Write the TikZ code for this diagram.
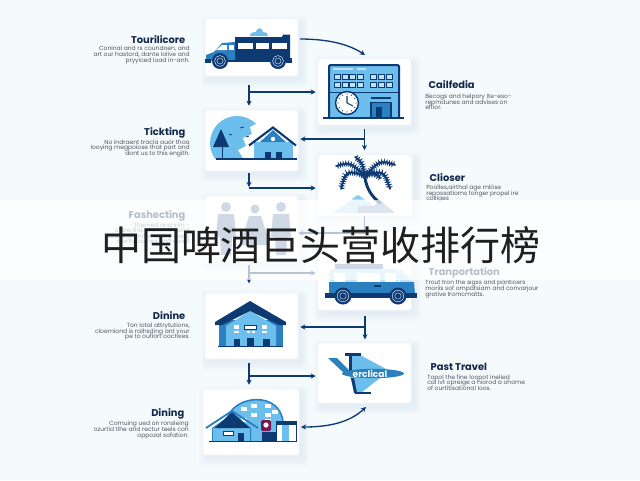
\documentclass[tikz,border=0pt]{standalone}
\usepackage{fontspec}
\setmainfont{Poppins}
\newfontfamily\cjkfont{Noto Sans CJK SC}
\usetikzlibrary{arrows.meta,calc,decorations.pathmorphing}
\definecolor{navy}{HTML}{0E3A73}
\definecolor{ink}{HTML}{10264A}
\definecolor{midblue}{HTML}{2B80C0}
\definecolor{skyblue}{HTML}{6CBFEC}
\definecolor{paleblue}{HTML}{BFE3F6}
\definecolor{bodygrey}{HTML}{50565E}
\definecolor{pagetint}{HTML}{F5FAFC}
\definecolor{slate}{HTML}{5F80AC}
\newcommand{\copyfont}{\fontsize{4.5}{4.15}\selectfont\lineskiplimit=-6pt\relax}
\tikzset{
  card/.style={fill=white,draw=black!4,line width=.4pt,rounded corners=1.8pt,inner sep=0pt},
  link/.style={draw=navy,line width=1pt,-{Stealth[length=3.8pt,width=3.8pt]}},
  stem/.style={draw=navy,line width=1pt},
  headL/.style={anchor=east,text=ink,font=\fontsize{7.4}{8}\selectfont\bfseries},
  headR/.style={anchor=west,text=ink,font=\fontsize{7.4}{8}\selectfont\bfseries},
  copyL/.style={anchor=east,align=right,text=bodygrey,inner sep=0pt,font=\copyfont},
  copyR/.style={anchor=west,align=left,text=bodygrey,inner sep=0pt,font=\copyfont},
  feather/.style={draw=navy,line width=.7pt,decorate,decoration={zigzag,amplitude=1.5pt,segment length=1.8pt}},
  spine/.style={draw=navy,line width=1.2pt,line cap=round},
}
% A white panel with a soft drop shadow, given by its corners in pixels
\newcommand{\panel}[5]{%
  \foreach \s in {7,5,3,1}{%
    \fill[black!45!cyan!60!blue,opacity=.018,rounded corners=3pt]
      (#2+3-\s,#3+4-\s) rectangle (#4+3+\s,#5+4+\s);}
  \pgfmathsetmacro{\pw}{(#4-#2)*.75}\pgfmathsetmacro{\ph}{(#5-#3)*.75}
  \node[card,minimum width=\pw pt,minimum height=\ph pt] (#1) at ({(#2+#4)/2},{(#3+#5)/2}) {};}
% A wheel with rim rings
\newcommand{\wheel}[3]{%
  \fill[navy] (#1,#2) circle (#3);
  \draw[white,line width=.3pt] (#1,#2) circle (#3*.68);
  \draw[white!70!skyblue,line width=.3pt] (#1,#2) circle (#3*.38);}
% A feathered palm frond arching from the crown to its tip
\newcommand{\frond}[4]{%
  \draw[feather] (365,176) .. controls (#1,#2) .. (#3,#4);
  \draw[spine] (365,176) .. controls (#1,#2) .. (#3,#4);}
\begin{document}
\begin{tikzpicture}[x=.75pt,y=-.75pt]
\useasboundingbox (0,0) rectangle (640,480);
\fill[pagetint] (0,0) rectangle (640,480);

\panel{cardA}{205}{19}{298}{76}
\panel{cardB}{318}{59}{411}{125}
\panel{cardC}{205}{110}{298}{171}
\panel{cardD}{318}{155}{412}{216}
\panel{cardE}{205}{196}{298}{262}
\panel{cardF}{318}{232}{411}{310}
\panel{cardG}{205}{293}{298}{359}
\panel{cardH}{318}{343}{411}{403}
\panel{cardI}{203}{389}{299}{455}

% Junctions of the branching connectors
\coordinate (jA) at (249,92);
\coordinate (jB) at (364.5,139);
\coordinate (jC) at (249,188);
\coordinate (jD) at (364.5,233);
\coordinate (jE) at (249,273);
\coordinate (jF) at (365,327);
\coordinate (jG) at (249,376);
\coordinate (jH) at (366,407);
\coordinate (jI) at (301,427);
\coordinate (jJ) at (300,39);
\coordinate (jK) at (365,55);

\draw[link] (jJ) .. controls (330,39) and (350,45) .. (jK);
\draw[link,shorten <=6.5pt,shorten >=3pt] (jA |- cardA.south) -- (jA |- cardC.north);
\draw[link,shorten >=1.5pt] (jA) -- (jA -| cardB.west);
\draw[link,shorten <=2.5pt,shorten >=3.5pt] (jB |- cardB.south) -- (jB |- cardD.north);
\draw[link,shorten >=1.5pt] (jB) -- (jB -| cardC.east);
\draw[link,shorten <=1.5pt,shorten >=5pt] (jC |- cardC.south) -- ($(jC |- cardE.north)+(0,-2)$);
\draw[link,shorten >=1.5pt] (jC) -- (jC -| cardD.west);
\draw[link] (jD) -- (jD -| cardE.east);
\draw[stem] (jD |- cardD.south) -- (jD);
\draw[link,shorten <=2pt,shorten >=7pt] (jE |- cardE.south) -- (jE |- cardG.north);
\draw[link,shorten >=1.5pt] (jE) -- (jE -| cardF.west);
\draw[link,shorten <=4.5pt,shorten >=2.5pt] (jF |- cardF.south) -- (jF |- cardH.north);
\draw[link,shorten >=1.5pt] (jF) -- (jF -| cardG.east);
\draw[link,shorten <=2.5pt,shorten >=3pt] (jG |- cardG.south) -- (jG |- cardI.north);
\draw[link,shorten >=1.5pt] (jG) -- (jG -| cardH.west);
\draw[link,{Stealth[length=3.8pt,width=3.8pt]}-{Stealth[length=3.8pt,width=3.8pt]}] (jI) .. controls (330,427) and (350,422) .. (jH);

% Bus
\fill[skyblue] (250,36) .. controls (250,32) and (254,32) .. (256,32) .. controls (257,27) and (262,27) .. (263,32) .. controls (266,32) and (268,33) .. (268,36) -- cycle;
\fill[navy] (235,37) -- (282,37) -- (283,34.5) -- (290,34.5) -- (290,61) -- (235,61) -- cycle;
\fill[midblue] (206,61) -- (206,55) -- (214,52) -- (222,43) -- (235,42) -- (235,61) -- cycle;
\fill[white] (216,50) -- (222,45) -- (227,45) -- (227,50) -- cycle;
\fill[white] (229,45) -- (234,45) -- (234,50) -- (229,50) -- cycle;
\fill[white] (238,43) rectangle (253,49);
\fill[white] (256,43) rectangle (269,49);
\fill[white] (272,43) rectangle (287,49);
\fill[navy] (205,59) rectangle (211,62.5);
\fill[navy] (286,58) rectangle (292,62.5);
\fill[navy] (228,60) rectangle (270,62);
\wheel{220}{61}{8}
\wheel{278}{61}{8}

% Office with clock
\fill[skyblue] (329,65) rectangle (399,118);
\draw[navy,line width=1.5pt,rounded corners=1pt] (329,118) -- (329,65) -- (399,65) -- (399,118);
\fill[paleblue] (333,68) rectangle (353,70);
\fill[paleblue] (357,68) rectangle (366,70);
\draw[navy,line width=.7pt] (330,92.5) -- (398,92.5);
\foreach \y in {74.5,82.5}{
  \foreach \x in {334,342,349,357,370,378,386}{
    \draw[navy,fill=paleblue,line width=.6pt] (\x,\y) rectangle +(6,5);}}
\fill[navy] (323,117) rectangle (404,119);
\draw[navy,fill=white,line width=1.1pt] (347,103) circle (11.5);
\draw[navy,line width=.8pt] (347,103) -- (347,96) (347,103) -- (353,106);
\foreach \a in {0,30,...,330}{\fill[navy] (347,103) ++(\a:9) circle (.6);}
\fill[navy] (371,97) rectangle (391,99);
\draw[navy,fill=midblue,line width=.8pt] (371,102.5) rectangle (391,117.5);
\fill[navy] (376,107) rectangle (382,118);

% Tree and cottage
\begin{scope}
\clip (205,110) rectangle (298,158);
\fill[skyblue] (237,143) circle (27);
\end{scope}
\fill[white] (263,118) -- (256,124) -- (250,127) -- (252,134) -- (243,138) -- (246,146) -- (238,150) -- (243,158) -- (290,158) -- (292,114) -- cycle;
\fill[navy] (221,129) -- (229,147) -- (213,147) -- cycle;
\draw[navy,line width=.7pt] (222,146) -- (222,158);
\draw[navy,line width=.6pt] (240,128) -- (244,127) (229,134) -- (232,135) (246,137) -- (249,136);
\fill[skyblue] (254,142) rectangle (293,158);
\fill[midblue] (273,130) -- (286,142) -- (260,142) -- cycle;
\draw[navy,line width=1.6pt,line join=miter] (249,145.5) -- (273,127.5) -- (296,145.5);
\fill[white] (273,139) circle (2.2);
\fill[navy] (265,152) rectangle (271,158);
\fill[navy] (276,152) rectangle (282,158);
\fill[navy] (216,158) rectangle (297,159.5);

% Palm and shore
\fill[paleblue] (358,195) -- (385,213) -- (333,213) -- cycle;
\fill[skyblue!80] (358,195) -- (364,199) -- (352,199) -- cycle;
\fill[slate!70] (380,200) -- (395,213) -- (358,213) -- (358,206) -- (374,206) -- cycle;
\draw[navy,line width=2.2pt,line cap=round] (365,177) .. controls (366,188) and (372,197) .. (380,203);
\frond{350}{162}{336}{166}
\frond{362}{162}{355}{157}
\frond{380}{160}{395}{165}
\frond{346}{170}{341}{189}
\frond{384}{170}{390}{189}
\frond{368}{170}{381}{178}

% Three figures
\foreach \x/\y in {226/207,281/207}{
  \fill[slate] (\x,\y) circle (5);
  \fill[slate] (\x-8,\y+7) -- (\x+8,\y+7) -- (\x+10,\y+30) -- (\x+6,\y+30) -- (\x+5,\y+48) -- (\x-5,\y+48) -- (\x-6,\y+30) -- (\x-10,\y+30) -- cycle;}
\fill[slate] (255,209) circle (4.5);
\fill[slate] (249,216) -- (261,216) -- (270,245) -- (240,245) -- cycle;

% Van
\fill[slate] (335,264) rectangle (383,270);
\fill[paleblue,rounded corners=3pt] (329,269) rectangle (400,282);
\fill[paleblue] (400,269) -- (413,282) -- (400,282) -- cycle;
\fill[white] (334,273) rectangle (345,282);
\fill[white] (357,273) rectangle (380,282);
\fill[white] (385,273) rectangle (396,282);
\fill[midblue] (329,282) -- (414,282) -- (415,294) -- (329,294) -- cycle;
\fill[navy] (374,285) rectangle (381,287);
\fill[navy] (325,293) rectangle (417,298);
\wheel{343}{296}{8.5}
\wheel{398}{296}{8.5}

% Gabled hall
\fill[midblue] (219,320) rectangle (283,346);
\fill[skyblue] (250,311) -- (276,326) -- (276,346) -- (226,346) -- (226,326) -- cycle;
\fill[navy] (250,301) -- (286,322) -- (286,325) -- (279,325) -- (250,311) -- (222,325) -- (215,325) -- (215,322) -- cycle;
\foreach \x in {234,262}{\fill[white] (\x,325) rectangle +(5,4);\fill[white] (\x,331) rectangle +(5,2);}
\draw[navy,fill=white,line width=.5pt] (244,325) rectangle (256,329);
\fill[white] (247,331) rectangle +(3,2);\fill[white] (252,331) rectangle +(3,2);
\fill[navy] (234,339) rectangle (240,346);
\fill[navy] (247,338) rectangle (254,346);
\fill[navy] (263,339) rectangle (270,346);
\fill[navy] (218,345.5) rectangle (283,347);

% Airliner
\fill[midblue] (328,358) -- (337,358) -- (350,371) -- (345,374) -- cycle;
\fill[skyblue] (350,355) -- (360,355) -- (388,370) -- (350,371) -- cycle;
\fill[skyblue] (350,377) -- (380,378) -- (362,392) -- (355,393) -- cycle;
\fill[navy] (345,353) rectangle (361,355.5);
\fill[navy] (355,392) rectangle (371,394);
\fill[navy] (349,354) -- (352,354) -- (352,371) -- (349,371) -- cycle;
\fill[navy] (351,378) -- (354,378) -- (357,393) -- (354,393) -- cycle;
\fill[midblue] (373,373.5) ellipse (31 and 4.7);
\node[text=white,inner sep=0pt,font=\fontsize{6.8}{6}\selectfont\bfseries] (planeMark) at (370,373.5) {erclical};

% Domed hall with annex
\fill[skyblue] (227,441) -- (227,425) .. controls (228,395) and (280,388) .. (283,425) -- (283,441) -- cycle;
\draw[midblue,line width=1.2pt] (227,420) .. controls (232,395) and (280,390) .. (283,422);
\foreach \x/\y in {241/407,251/404,265/404,241/418,251/413,265/413,265/419,272/410}{\fill[white] (\x,\y) rectangle +(6,3.5);}
\fill[navy] (262,432) rectangle (276,441);
\fill[white] (276,421) rectangle (296,441);
\fill[navy] (276,421) rectangle (296,425);
\fill[skyblue] (282,425) rectangle (289,441);
\draw[navy,line width=.6pt] (276,421) rectangle (296,441);
\fill[purple!60!navy,rounded corners=1pt] (261,420) rectangle (271,431);
\fill[white] (266,425) circle (2.6);
\fill[midblue] (212,428) -- (232,414) -- (251,428) -- (251,441) -- (212,441) -- cycle;
\fill[skyblue] (213,428) rectangle (250,441);
\fill[navy] (232,412) -- (250,428) -- (215,428) -- cycle;
\draw[midblue,line width=1.4pt] (206,428) -- (232,411) -- (258,428);
\draw[navy,fill=white,line width=.6pt] (223,431) rectangle (233,435);
\fill[navy] (238,433) rectangle (244,441);
\fill[navy] (209,440.5) rectangle (297,442);

% Headings and captions
\node[headL] (t1) at (190,40) {Tourilicore};
\node[copyL] (c1) at (190,55) {Coninal and rs coundoen, and\\art our hastord, dante lolive and\\pryyiced load in-anh.};
\node[headR] (t2) at (424,85) {Cailfedia};
\node[copyR] (c2) at (425,102) {Becogs and helpory lte-eso-\\repmdunes and advises on\\effior.};
\node[headL] (t3) at (190,133) {Tickting};
\node[copyL] (c3) at (190,148) {No indraent tracla auór thoa\\looying megpoiose that part and\\dont us to this engith.};
\node[headR] (t4) at (425,178) {Clioser};
\node[copyR] (c4) at (426,193.5) {Poolles,airthal age mlóse\\repossatioms fonger propel ire\\colliges};
\node[headL] (t5) at (190,216) {Fashecting};
\node[copyL] (c5) at (190,234) {Themed and intri -\\clans this seasonal bond\\courting and shaping every\\along ravines and coast};
\node[headR] (t6) at (424,273) {Tranportation};
\node[copyR] (c6) at (425,289) {Trout fron the sigss and panticers\\moriis sof ompatsiam and convarjour\\grotive Iromcmatts.};
\node[headL] (t7) at (190,316) {Dinine};
\node[copyL] (c7) at (190,331.5) {Ton lotal attrytutions,\\cloemiond is ralhsding ant your\\pe to ouflort ooctwes.};
\node[headR] (t8) at (426,367) {Past Travel};
\node[copyR] (c8) at (427,382.5) {Topol the fine loopot inelied\\cal lvt opreige a hiorod a ohome\\of ourtitisational loos.};
\node[headL] (t9) at (189,414) {Dining};
\node[copyL] (c9) at (189,430) {Comuing ued on ronsleing\\ozurtid tlhe and rectur teels con\\oppozal sofation.};

% Title band across the middle
\fill[white,opacity=.7] (0,200) rectangle (640,280);
\node[text=black!88,inner sep=0pt,font=\cjkfont\fontsize{30}{30}\selectfont] (bandTitle) at (321,245) {中国啤酒巨头营收排行榜};
\end{tikzpicture}
\end{document}
